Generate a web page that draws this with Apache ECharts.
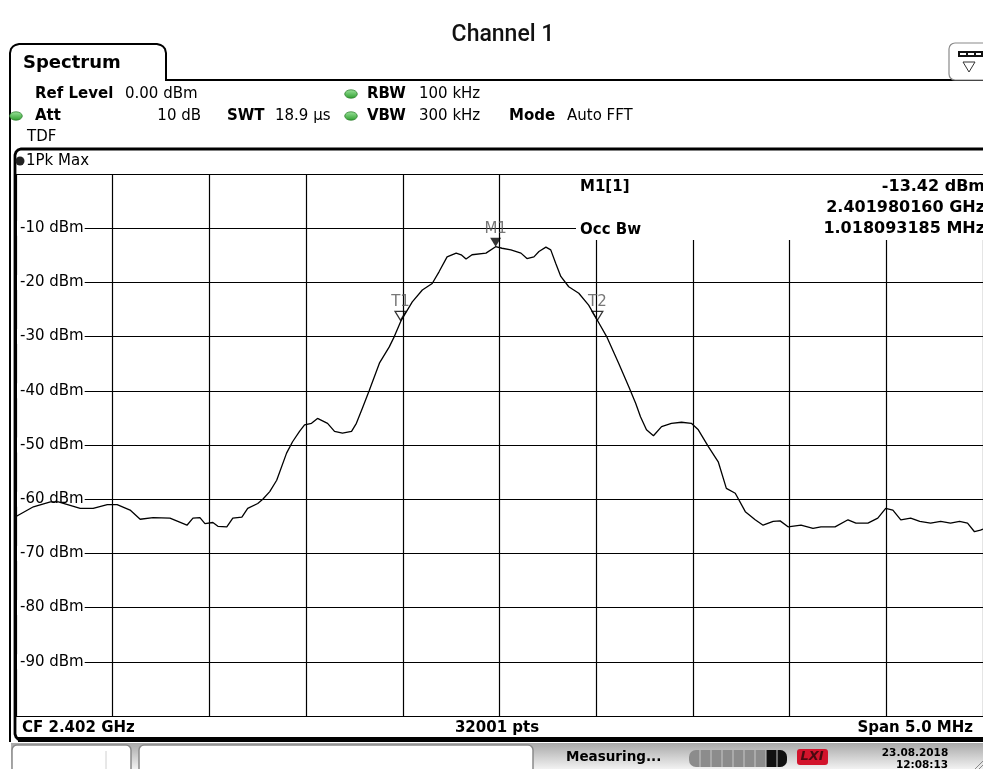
<!DOCTYPE html>
<html>
<head>
<meta charset="utf-8">
<script src="https://cdn.jsdelivr.net/npm/echarts@6/dist/echarts.min.js"></script>
<style>
  html, body { margin: 0; padding: 0; background: #fff; }
  #chart { width: 983px; height: 769px; }
</style>
</head>
<body>
<div id="chart"></div>
<script>
// trace (MHz, dBm)
const freqMHz = [
  2399.500, 2399.590, 2399.678, 2399.719, 2399.832, 2399.899, 2399.972, 2400.023, 2400.090, 2400.142,
  2400.209, 2400.296, 2400.384, 2400.415, 2400.451, 2400.477, 2400.518, 2400.544, 2400.590, 2400.621,
  2400.668, 2400.698, 2400.750, 2400.776, 2400.812, 2400.848, 2400.899, 2400.930, 2400.966, 2400.992,
  2401.028, 2401.059, 2401.111, 2401.147, 2401.188, 2401.235, 2401.260, 2401.291, 2401.327, 2401.379,
  2401.430, 2401.456, 2401.492, 2401.549, 2401.601, 2401.652, 2401.688, 2401.729, 2401.776, 2401.802,
  2401.827, 2401.858, 2401.930, 2401.980, 2402.013, 2402.059, 2402.111, 2402.142, 2402.178, 2402.204,
  2402.240, 2402.265, 2402.291, 2402.317, 2402.358, 2402.410, 2402.461, 2402.503, 2402.554, 2402.616,
  2402.668, 2402.704, 2402.729, 2402.760, 2402.796, 2402.838, 2402.889, 2402.941, 2402.992, 2403.028,
  2403.080, 2403.131, 2403.173, 2403.219, 2403.271, 2403.322, 2403.363, 2403.415, 2403.451, 2403.492,
  2403.559, 2403.621, 2403.662, 2403.735, 2403.802, 2403.843, 2403.905, 2403.956, 2403.997, 2404.034,
  2404.075, 2404.126, 2404.173, 2404.229, 2404.281, 2404.332, 2404.379, 2404.420, 2404.456, 2404.487, 2404.500
];
const levelDbm = [
  -63.2, -61.4, -60.5, -60.5, -61.7, -61.7, -61.0, -61.0, -62.0, -63.7,
  -63.4, -63.5, -64.8, -63.5, -63.4, -64.5, -64.3, -65.0, -65.1, -63.5,
  -63.3, -61.7, -60.8, -60.0, -58.6, -56.5, -51.5, -49.4, -47.5, -46.3,
  -46.0, -45.1, -46.0, -47.5, -47.8, -47.5, -46.0, -43.2, -39.9, -34.9,
  -31.9, -30.0, -27.0, -23.6, -21.4, -20.2, -18.0, -15.3, -14.6, -14.9,
  -15.7, -14.9, -14.6, -13.42, -13.7, -14.0, -14.6, -15.6, -15.3, -14.3,
  -13.5, -14.0, -16.5, -18.9, -20.8, -22.0, -24.2, -26.8, -30.0, -34.9,
  -39.2, -42.3, -44.8, -47.2, -48.3, -46.6, -46.0, -45.8, -46.0, -47.2,
  -50.3, -53.1, -58.0, -58.9, -62.3, -63.8, -64.8, -64.1, -64.0, -65.1,
  -64.8, -65.4, -65.1, -65.1, -63.8, -64.4, -64.4, -63.5, -61.7, -62.0,
  -63.8, -63.5, -64.1, -64.4, -64.1, -64.4, -64.1, -64.4, -66.0, -65.7, -65.5
];

// markers
const markerNames = ['M1', 'T1', 'T2'];
const markerFreq = [2401.980, 2401.488, 2402.506];
const markerLevel = [-13.42, -27.0, -27.0];

const chart = echarts.init(document.getElementById('chart'));
const UI = '"DejaVu Sans", Verdana, sans-serif';

// small helper for the instrument's text fields
function label(x, y, text, font, align, fill) {
  return {
    type: 'text', x: x, y: y, z: 20,
    style: { text: text, font: font, align: align || 'left', verticalAlign: 'middle', fill: fill || '#000' }
  };
}
const B15 = 'bold 15px ' + UI;
const N15 = '15px ' + UI;

const greenDot = (cx, cy) => ({
  type: 'circle', z: 20, x: cx, y: cy, scaleX: 1.5,
  shape: { cx: 0, cy: 0, r: 4.2 },
  style: {
    fill: new echarts.graphic.LinearGradient(0, 0, 0, 1, [
      { offset: 0, color: '#9be39b' }, { offset: 1, color: '#2e9e2e' }
    ]),
    stroke: '#2a7a2a', lineWidth: 0.6
  }
});

const graphics = [
  // tab + outer frame
  { type: 'polyline', z: 20,
    shape: { points: [[10, 742], [10, 53], [11, 49], [13, 46.5], [15.5, 45], [19, 44], [157, 44], [160.5, 45],
                      [163, 46.5], [165, 49], [166, 53], [166, 80], [995, 80]] },
    style: { stroke: '#000', lineWidth: 2, fill: null } },
  label(23, 63, 'Spectrum', 'bold 18px ' + UI),
  // top right icon
  { type: 'rect', z: 20, shape: { x: 949, y: 43, width: 48, height: 37, r: 6 }, style: { fill: '#fff', stroke: '#8a8a8a', lineWidth: 1.2 } },
  { type: 'rect', z: 21, shape: { x: 958, y: 51, width: 25, height: 6 }, style: { fill: '#111' } },
  { type: 'rect', z: 22, shape: { x: 960, y: 53, width: 6, height: 2 }, style: { fill: '#fff' } },
  { type: 'rect', z: 22, shape: { x: 968, y: 53, width: 6, height: 2 }, style: { fill: '#fff' } },
  { type: 'rect', z: 22, shape: { x: 976, y: 53, width: 5, height: 2 }, style: { fill: '#fff' } },
  { type: 'polygon', z: 21, shape: { points: [[963, 62], [975, 62], [969, 72]] }, style: { fill: '#fff', stroke: '#333', lineWidth: 1 } },

  // header settings
  label(35, 94, 'Ref Level', B15), label(125, 94, '0.00 dBm', N15),
  greenDot(351, 94), label(367, 94, 'RBW', B15), label(419, 94, '100 kHz', N15),
  greenDot(16, 116), label(35, 116, 'Att', B15), label(201, 116, '10 dB', N15, 'right'),
  label(227, 116, 'SWT', B15), label(275, 116, '18.9 µs', N15),
  greenDot(351, 116), label(367, 116, 'VBW', B15), label(419, 116, '300 kHz', N15),
  label(509, 116, 'Mode', B15), label(567, 116, 'Auto FFT', N15),
  label(27, 137, 'TDF', N15),

  // inner panel frame
  { type: 'polyline', z: 20,
    shape: { points: [[995, 149], [21, 149], [18, 150], [16, 152], [15, 155], [15, 734], [16, 737], [18, 739], [21, 740], [995, 740]] },
    style: { stroke: '#000', lineWidth: 2.8, fill: null } },
  { type: 'rect', z: 20, shape: { x: 18, y: 737, width: 980, height: 5 }, style: { fill: '#000' } },
  { type: 'circle', z: 20, shape: { cx: 20, cy: 161, r: 4.5 }, style: { fill: '#222' } },
  label(26, 161, '1Pk Max', N15),

  // marker info box
  { type: 'rect', z: 1, shape: { x: 576, y: 175, width: 420, height: 65 }, style: { fill: '#fff' } },
  label(580, 187, 'M1[1]', B15),
  label(580, 230, 'Occ Bw', B15),
  label(985, 187, '-13.42 dBm', 'bold 16px ' + UI, 'right'),
  label(985, 208, '2.401980160 GHz', 'bold 16px ' + UI, 'right'),
  label(985, 229, '1.018093185 MHz', 'bold 16px ' + UI, 'right'),

  // bottom line of the diagram
  label(22, 728, 'CF 2.402 GHz', B15),
  label(497, 728, '32001 pts', B15, 'center'),
  label(973, 728, 'Span 5.0 MHz', B15, 'right'),

  // status bar
  { type: 'rect', z: 10, shape: { x: 11, y: 743, width: 980, height: 26 },
    style: { fill: new echarts.graphic.LinearGradient(0, 0, 0, 1, [
      { offset: 0, color: '#a9a9a9' }, { offset: 1, color: '#f2f2f2' } ]) } },
  { type: 'rect', z: 11, shape: { x: 12, y: 745, width: 119, height: 30, r: 5 }, style: { fill: '#fff', stroke: '#8a8a8a', lineWidth: 1.5 } },
  { type: 'line', z: 12, shape: { x1: 106, y1: 751, x2: 106, y2: 769 }, style: { stroke: '#d0d0d0', lineWidth: 1 } },
  { type: 'rect', z: 11, shape: { x: 139, y: 745, width: 394, height: 30, r: 5 }, style: { fill: '#fff', stroke: '#8a8a8a', lineWidth: 1.5 } },
  label(566, 757, 'Measuring...', 'bold 13.5px ' + UI),
  { type: 'rect', z: 11, shape: { x: 689, y: 750, width: 98, height: 17, r: 7 }, style: { fill: '#8c8c8c' } },
  { type: 'rect', z: 12, shape: { x: 766, y: 750, width: 21, height: 17, r: [0, 7, 7, 0] }, style: { fill: '#111' } },
  ...[700, 711, 722, 733, 744, 755, 766, 777].map(x => ({
    type: 'line', z: 13, shape: { x1: x, y1: 750, x2: x, y2: 767 }, style: { stroke: '#c8c8c8', lineWidth: 1 }
  })),
  { type: 'rect', z: 11, shape: { x: 797, y: 749, width: 31, height: 16, r: 3 }, style: { fill: '#d2142c' } },
  label(812, 757, 'LXI', 'italic bold 13px ' + UI, 'center', '#4a0a10'),
  label(915, 753, '23.08.2018', 'bold 10.5px ' + UI, 'center'),
  label(922, 765, '12:08:13', 'bold 10.5px ' + UI, 'center'),
  { type: 'line', z: 12, shape: { x1: 975, y1: 769, x2: 983, y2: 761 }, style: { stroke: '#888', lineWidth: 1 } },
  { type: 'line', z: 12, shape: { x1: 979, y1: 769, x2: 983, y2: 765 }, style: { stroke: '#888', lineWidth: 1 } }
];

const option = {
  animation: false,
  backgroundColor: '#fff',
  title: {
    text: 'Channel 1',
    left: 498, top: 16, textAlign: 'center',
    textStyle: { fontFamily: 'Roboto, sans-serif', fontSize: 23, fontWeight: 500, color: '#111', lineHeight: 28 }
  },
  grid: { left: 16, top: 174, width: 970, height: 542, containLabel: false },
  xAxis: {
    type: 'value', min: 2399.5, max: 2404.5, interval: 0.5,
    axisLine: { show: false }, axisTick: { show: false }, axisLabel: { show: false },
    splitLine: { show: true, lineStyle: { color: '#000', width: 1.2 } }
  },
  yAxis: {
    type: 'value', min: -100, max: 0, interval: 10,
    axisLine: { show: false }, axisTick: { show: false },
    axisLabel: {
      inside: true, margin: 1, showMinLabel: false, showMaxLabel: false,
      formatter: v => v + ' dBm',
      fontFamily: UI, fontSize: 15, color: '#000',
      backgroundColor: '#fff', padding: [0, 1, 0, 3]
    },
    splitLine: { show: true, lineStyle: { color: '#000', width: 1.2 } }
  },
  series: [
    {
      name: '1Pk Max', type: 'line', z: 3,
      showSymbol: false, symbol: 'none',
      lineStyle: { color: '#000', width: 1.3 },
      data: freqMHz.map((f, i) => [f, levelDbm[i]])
    },
    {
      name: 'Markers', type: 'scatter', z: 4,
      symbol: 'path://M0 0L10 0L5 9Z', symbolSize: [11, 9], symbolOffset: [0, -4.5],
      label: {
        show: true, position: 'top', distance: 1, formatter: '{b}',
        fontFamily: UI, fontSize: 15, color: '#555'
      },
      data: markerNames.map((n, i) => ({
        name: n,
        value: [markerFreq[i], markerLevel[i]],
        itemStyle: i === 0
          ? { color: '#000' }
          : { color: 'rgba(255,255,255,0)', borderColor: '#000', borderWidth: 1.2 }
      }))
    }
  ],
  graphic: graphics
};

chart.setOption(option);
</script>
</body>
</html>
